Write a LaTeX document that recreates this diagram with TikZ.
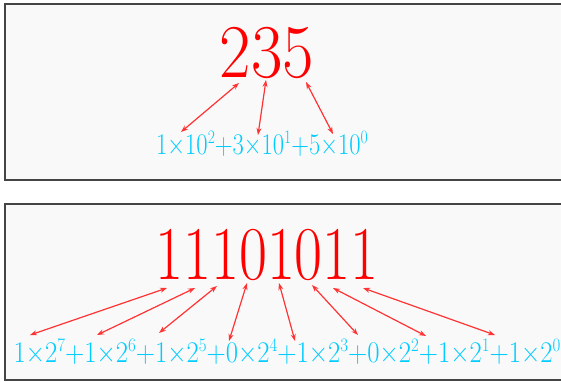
\documentclass[tikz,border=0pt]{standalone}
\usepackage{fontspec}
\usetikzlibrary{arrows.meta}
\definecolor{numred}{HTML}{FF0000}
\definecolor{termblue}{HTML}{00CCFF}
\definecolor{arrowred}{HTML}{FF3333}
\definecolor{boxfill}{HTML}{F9F9F9}
\definecolor{boxline}{HTML}{444444}
\newcommand{\pw}[1]{\raisebox{11pt}{\fontsize{19}{19}\selectfont #1}}

\begin{document}
\begin{tikzpicture}[x=1pt, y=-1pt,
  every node/.style={inner sep=0pt, anchor=base},
  numeral/.style={numred, font=\fontsize{76}{76}\selectfont},
  terms/.style={termblue, font=\fontsize{30}{30}\selectfont},
  link/.style={{Stealth[length=7pt,width=5pt]}-{Stealth[length=7pt,width=5pt]}, arrowred, line width=1.2pt}]
  \clip (0,0) rectangle (561,381);
  % decimal panel
  \draw[boxline, fill=boxfill, line width=1.6pt] (5,4) rectangle (600,180);
  \node[numeral] (dec) at (267,77) {\scalebox{0.9}[1]{235}};
  \node[terms] (decsum) at (262,154) {\scalebox{0.82}[1]{1×10\pw{2}+3×10\pw{1}+5×10\pw{0}}};
  \foreach \n/\ax/\ay/\bx/\by in {1/239/83/181/132, 2/266/80/258/135, 3/306/82/333/134} {
    \coordinate (d\n) at (\ax,\ay);
    \coordinate (e\n) at (\bx,\by);
    \draw[link] (d\n) -- (e\n);
  }
  % binary panel
  \draw[boxline, fill=boxfill, line width=1.6pt] (5,204) rectangle (600,380);
  \node[numeral] (bin) at (267,279) {\scalebox{0.8}[1]{11101011}};
  \node[terms] (binsum) at (287,362) {\scalebox{0.89}[1]{1×2\pw{7}+1×2\pw{6}+1×2\pw{5}+0×2\pw{4}+1×2\pw{3}+0×2\pw{2}+1×2\pw{1}+1×2\pw{0}}};
  \foreach \n/\ax/\ay/\bx/\by in {1/167/288/30/335, 2/195/288/97/335, 3/217/286/159/333,
                                  4/247/283/229/341, 5/279/283/295/341, 6/312/285/358/335,
                                  7/333/288/426/336, 8/363/288/495/335} {
    \coordinate (b\n) at (\ax,\ay);
    \coordinate (c\n) at (\bx,\by);
    \draw[link] (b\n) -- (c\n);
  }
\end{tikzpicture}
\end{document}
